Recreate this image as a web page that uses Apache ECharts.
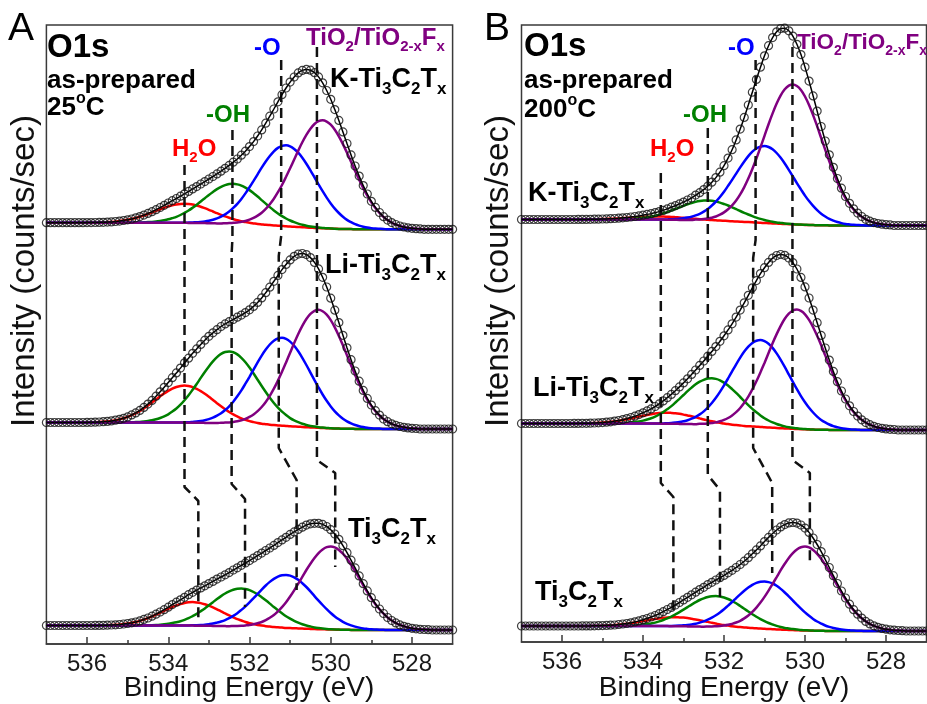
<!DOCTYPE html>
<html><head><meta charset="utf-8">
<script src="https://cdn.jsdelivr.net/npm/echarts@6/dist/echarts.min.js"></script>
<style>html,body{margin:0;padding:0;background:#fff}#c{width:927px;height:704px}</style>
</head><body><div id="c"></div>
<script>
// ---------- DATA ----------
// binding-energy grid (eV), 0.1 eV steps
const energies = [537.0,536.9,536.8,536.7,536.6,536.5,536.4,536.3,536.2,536.1,
 536.0,535.9,535.8,535.7,535.6,535.5,535.4,535.3,535.2,535.1,
 535.0,534.9,534.8,534.7,534.6,534.5,534.4,534.3,534.2,534.1,
 534.0,533.9,533.8,533.7,533.6,533.5,533.4,533.3,533.2,533.1,
 533.0,532.9,532.8,532.7,532.6,532.5,532.4,532.3,532.2,532.1,
 532.0,531.9,531.8,531.7,531.6,531.5,531.4,531.3,531.2,531.1,
 531.0,530.9,530.8,530.7,530.6,530.5,530.4,530.3,530.2,530.1,
 530.0,529.9,529.8,529.7,529.6,529.5,529.4,529.3,529.2,529.1,
 529.0,528.9,528.8,528.7,528.6,528.5,528.4,528.3,528.2,528.1,
 528.0,527.9,527.8,527.7,527.6,527.5,527.4,527.3,527.2,527.1,527.0];
const xMajorTicks = [536,534,532,530,528];
const xMinorTicks = [535,533,531,529];

// Shirley-type backgrounds (height above right-hand baseline) on the grid above
const a1_bg = [6.6,6.6,6.6,6.6,6.6,6.6,6.6,6.6,6.6,6.6, 6.6,6.6,6.6,6.6,6.6,6.6,6.6,6.6,6.6,6.6, 6.6,6.6,6.6,6.6,6.6,6.6,6.6,6.6,6.6,6.6, 6.6,
 6.6,6.5,6.5,6.5,6.4,6.4,6.3,6.3,6.2,6.1, 6.0,5.9,5.8,5.7,5.6,5.5,5.3,5.2,5.0,4.9, 4.7,4.5,4.3,4.1,3.9,3.7,3.5,3.2,3.0,2.8, 2.5,2.3,2.1,1.8,1.6,1.4,1.2,1.0,0.8,0.7, 0.5,0.4,0.3,0.2,0.2,0.1,0.1,0.1,0,0,
 0,0,0,0,0,0,0,0,0,0, 0,0,0,0,0,0,0,0,0,0];
const a2_bg = [6.5,6.5,6.5,6.5,6.5,6.5,6.5,6.5,6.5,6.5, 6.5,6.5,6.5,6.5,6.5,6.5,6.5,6.5,6.5,6.5, 6.5,6.5,6.5,6.5,6.5,6.5,6.5,6.5,6.5,6.5, 6.5,
 6.5,6.4,6.4,6.4,6.3,6.3,6.2,6.2,6.1,6.0, 5.9,5.9,5.8,5.7,5.5,5.4,5.3,5.1,5.0,4.8, 4.6,4.4,4.2,4.0,3.8,3.6,3.4,3.2,3.0,2.7, 2.5,2.3,2.0,1.8,1.6,1.4,1.2,1.0,0.8,0.7, 0.5,0.4,0.3,0.2,0.2,0.1,0.1,0.1,0,0,
 0,0,0,0,0,0,0,0,0,0, 0,0,0,0,0,0,0,0,0,0];
const a3_bg = [4.5,4.5,4.5,4.5,4.5,4.5,4.5,4.5,4.5,4.5, 4.5,4.5,4.5,4.5,4.5,4.5,4.5,4.5,4.5,4.5, 4.5,4.5,4.5,4.5,4.5,4.5,4.5,4.5,4.5,4.5, 4.5,
 4.5,4.5,4.4,4.4,4.4,4.4,4.3,4.3,4.2,4.2, 4.1,4.1,4.0,3.9,3.8,3.7,3.6,3.6,3.4,3.3, 3.2,3.1,2.9,2.8,2.7,2.5,2.4,2.2,2.0,1.9, 1.7,1.6,1.4,1.3,1.1,0.9,0.8,0.7,0.6,0.5, 0.4,0.3,0.2,0.2,0.1,0.1,0.1,0,0,0,
 0,0,0,0,0,0,0,0,0,0, 0,0,0,0,0,0,0,0,0,0];
const b1_bg = [6,6,6,6,6,6,6,6,6,6, 6,6,6,6,6,6,6,6,6,6, 6,6,6,6,6,6,6,6,6,6, 6,
 6.0,5.9,5.9,5.9,5.9,5.8,5.8,5.7,5.6,5.6, 5.5,5.4,5.3,5.2,5.1,5.0,4.9,4.7,4.6,4.4, 4.3,4.1,3.9,3.7,3.5,3.4,3.2,2.9,2.7,2.5, 2.3,2.1,1.9,1.7,1.5,1.3,1.1,0.9,0.8,0.6, 0.5,0.4,0.3,0.2,0.2,0.1,0.1,0.1,0,0,
 0,0,0,0,0,0,0,0,0,0, 0,0,0,0,0,0,0,0,0,0];
const b2_bg = [6.5,6.5,6.5,6.5,6.5,6.5,6.5,6.5,6.5,6.5, 6.5,6.5,6.5,6.5,6.5,6.5,6.5,6.5,6.5,6.5, 6.5,6.5,6.5,6.5,6.5,6.5,6.5,6.5,6.5,6.5, 6.5,
 6.5,6.4,6.4,6.4,6.3,6.3,6.2,6.2,6.1,6.0, 5.9,5.9,5.8,5.7,5.5,5.4,5.3,5.1,5.0,4.8, 4.6,4.4,4.2,4.0,3.8,3.6,3.4,3.2,3.0,2.7, 2.5,2.3,2.0,1.8,1.6,1.4,1.2,1.0,0.8,0.7, 0.5,0.4,0.3,0.2,0.2,0.1,0.1,0.1,0,0,
 0,0,0,0,0,0,0,0,0,0, 0,0,0,0,0,0,0,0,0,0];
const b3_bg = [5,5,5,5,5,5,5,5,5,5, 5,5,5,5,5,5,5,5,5,5, 5,5,5,5,5,5,5,5,5,5, 5,
 5.0,5.0,4.9,4.9,4.9,4.9,4.8,4.8,4.7,4.7, 4.6,4.5,4.4,4.4,4.3,4.2,4.1,4.0,3.8,3.7, 3.6,3.4,3.3,3.1,3.0,2.8,2.6,2.5,2.3,2.1, 1.9,1.8,1.6,1.4,1.2,1.1,0.9,0.8,0.6,0.5, 0.4,0.3,0.2,0.2,0.1,0.1,0.1,0.1,0,0,
 0,0,0,0,0,0,0,0,0,0, 0,0,0,0,0,0,0,0,0,0];

// fitted components: readings every 0.1 eV, starting at "from" (eV) and going down in energy
// Panel A (25 C) : K-Ti3C2Tx
const a1_h2o = { from: 536.0, values: [0.1,0.1,0.2,0.3,0.4,0.6,0.8,1.2,1.6,2.2,2.9,3.7,4.7,5.9,7.2,8.7,10.2,11.8,13.4,14.9,16.3,17.4,18.3,18.8,19,18.8,18.3,17.4,16.3,14.9,13.4,11.8,10.2,8.7,7.2,5.9,4.7,3.7,2.9,2.2,1.6,1.2,0.8,0.6,0.4,0.3,0.2,0.1,0.1] };
const a1_oh = { from: 534.8, values: [0.2,0.2,0.4,0.6,0.8,1.2,1.8,2.5,3.4,4.6,6.0,7.8,10.0,12.4,15.2,18.3,21.6,24.9,28.3,31.4,34.3,36.7,38.5,39.6,40,39.6,38.5,36.7,34.3,31.4,28.3,24.9,21.6,18.3,15.2,12.4,10.0,7.8,6.0,4.6,3.4,2.5,1.8,1.2,0.8,0.6,0.4,0.2,0.2] };
const a1_o = { from: 533.5, values: [0.3,0.5,0.7,1.1,1.7,2.5,3.6,5.0,6.9,9.2,12.2,15.9,20.2,25.2,30.9,37.1,43.7,50.5,57.3,63.7,69.4,74.3,77.9,80.2,81,80.2,77.9,74.3,69.4,63.7,57.3,50.5,43.7,37.1,30.9,25.2,20.2,15.9,12.2,9.2,6.9,5.0,3.6,2.5,1.7,1.1,0.7,0.5,0.3] };
const a1_tio2 = { from: 532.6, values: [0.4,0.6,1.0,1.5,2.3,3.3,4.8,6.7,9.2,12.3,16.3,21.2,26.9,33.6,41.1,49.5,58.2,67.3,76.4,84.9,92.6,99.0,103.9,106.9,108,106.9,103.9,99.0,92.6,84.9,76.4,67.3,58.2,49.5,41.1,33.6,26.9,21.2,16.3,12.3,9.2,6.7,4.8,3.3,2.3,1.5,1.0,0.6,0.4] };
// Panel A : Li-Ti3C2Tx
const a2_h2o = { from: 536.0, values: [0.1,0.2,0.3,0.5,0.8,1.1,1.6,2.3,3.1,4.2,5.6,7.3,9.2,11.5,14.1,16.9,19.9,23.1,26.2,29.1,31.7,33.9,35.6,36.6,37,36.6,35.6,33.9,31.7,29.1,26.2,23.1,19.9,16.9,14.1,11.5,9.2,7.3,5.6,4.2,3.1,2.3,1.6,1.1,0.8,0.5,0.3,0.2,0.1] };
const a2_oh = { from: 534.9, values: [0.3,0.4,0.6,1.0,1.5,2.2,3.2,4.5,6.1,8.2,10.9,14.1,17.9,22.4,27.4,33.0,38.8,44.9,50.9,56.6,61.7,66.0,69.3,71.3,72,71.3,69.3,66.0,61.7,56.6,50.9,44.9,38.8,33.0,27.4,22.4,17.9,14.1,10.9,8.2,6.1,4.5,3.2,2.2,1.5,1.0,0.6,0.4,0.3] };
const a2_o = { from: 533.6, values: [0.4,0.5,0.8,1.2,1.8,2.7,3.9,5.5,7.5,10.0,13.3,17.2,21.9,27.4,33.5,40.3,47.4,54.8,62.2,69.2,75.4,80.7,84.7,87.1,88,87.1,84.7,80.7,75.4,69.2,62.2,54.8,47.4,40.3,33.5,27.4,21.9,17.2,13.3,10.0,7.5,5.5,3.9,2.7,1.8,1.2,0.8,0.5,0.4] };
const a2_tio2 = { from: 532.7, values: [0.5,0.7,1.1,1.7,2.5,3.7,5.2,7.3,10.0,13.5,17.8,23.1,29.4,36.7,45.0,54.0,63.6,73.5,83.4,92.7,101.1,108.2,113.5,116.8,118,116.8,113.5,108.2,101.1,92.7,83.4,73.5,63.6,54.0,45.0,36.7,29.4,23.1,17.8,13.5,10.0,7.3,5.2,3.7,2.5,1.7,1.1,0.7,0.5] };
// Panel A : Ti3C2Tx
const a3_h2o = { from: 535.8, values: [0.1,0.1,0.2,0.3,0.5,0.7,1.0,1.5,2.0,2.7,3.5,4.6,5.9,7.3,9.0,10.8,12.7,14.6,16.6,18.5,20.1,21.5,22.6,23.3,23.5,23.3,22.6,21.5,20.1,18.5,16.6,14.6,12.7,10.8,9.0,7.3,5.9,4.6,3.5,2.7,2.0,1.5,1.0,0.7,0.5,0.3,0.2,0.1,0.1] };
const a3_oh = { from: 534.6, values: [0.2,0.2,0.3,0.5,0.8,1.2,1.7,2.4,3.2,4.3,5.7,7.4,9.5,11.8,14.5,17.4,20.5,23.7,26.9,29.9,32.6,34.8,36.6,37.6,38,37.6,36.6,34.8,32.6,29.9,26.9,23.7,20.5,17.4,14.5,11.8,9.5,7.4,5.7,4.3,3.2,2.4,1.7,1.2,0.8,0.5,0.3,0.2,0.2] };
const a3_o = { from: 533.5, values: [0.2,0.3,0.5,0.7,1.1,1.6,2.3,3.3,4.5,6.0,8.0,10.4,13.2,16.5,20.2,24.3,28.6,33.0,37.5,41.7,45.4,48.6,51.0,52.5,53,52.5,51.0,48.6,45.4,41.7,37.5,33.0,28.6,24.3,20.2,16.5,13.2,10.4,8.0,6.0,4.5,3.3,2.3,1.6,1.1,0.7,0.5,0.3,0.2] };
const a3_tio2 = { from: 532.4, values: [0.3,0.5,0.7,1.2,1.7,2.6,3.7,5.1,7.1,9.5,12.5,16.3,20.7,25.8,31.6,38.0,44.7,51.7,58.7,65.2,71.1,76.1,79.8,82.2,83,82.2,79.8,76.1,71.1,65.2,58.7,51.7,44.7,38.0,31.6,25.8,20.7,16.3,12.5,9.5,7.1,5.1,3.7,2.6,1.7,1.2,0.7,0.5,0.3] };

// Panel B (200 C) : K-Ti3C2Tx
const b1_h2o = { from: 536.0, values: [0,0,0,0,0.1,0.1,0.1,0.2,0.3,0.3,0.5,0.6,0.7,0.9,1.1,1.4,1.6,1.9,2.1,2.4,2.6,2.8,2.9,3.0,3,3.0,2.9,2.8,2.6,2.4,2.1,1.9,1.6,1.4,1.1,0.9,0.7,0.6,0.5,0.3,0.3,0.2,0.1,0.1,0.1,0,0,0,0] };
const b1_oh = { from: 534.8, values: [0.1,0.1,0.2,0.3,0.4,0.6,0.9,1.2,1.7,2.3,3.0,3.9,5.0,6.2,7.6,9.2,10.8,12.5,14.1,15.7,17.1,18.3,19.2,19.8,20,19.8,19.2,18.3,17.1,15.7,14.1,12.5,10.8,9.2,7.6,6.2,5.0,3.9,3.0,2.3,1.7,1.2,0.9,0.6,0.4,0.3,0.2,0.1,0.1] };
const b1_o = { from: 533.4, values: [0.3,0.5,0.7,1.1,1.6,2.4,3.4,4.8,6.5,8.8,11.6,15.1,19.2,23.9,29.3,35.3,41.5,48.0,54.4,60.5,66.0,70.6,74.1,76.2,77,76.2,74.1,70.6,66.0,60.5,54.4,48.0,41.5,35.3,29.3,23.9,19.2,15.1,11.6,8.8,6.5,4.8,3.4,2.4,1.6,1.1,0.7,0.5,0.3] };
const b1_tio2 = { from: 532.7, values: [0.6,0.8,1.3,2.0,2.9,4.3,6.2,8.7,11.9,16.0,21.1,27.4,34.9,43.5,53.3,64.1,75.5,87.2,99.0,110.0,120.0,128.4,134.7,138.6,140,138.6,134.7,128.4,120.0,110.0,99.0,87.2,75.5,64.1,53.3,43.5,34.9,27.4,21.1,16.0,11.9,8.7,6.2,4.3,2.9,2.0,1.3,0.8,0.6] };
// Panel B : Li-Ti3C2Tx
const b2_h2o = { from: 535.8, values: [0,0.1,0.1,0.2,0.2,0.3,0.5,0.7,0.9,1.3,1.7,2.2,2.7,3.4,4.2,5.0,5.9,6.9,7.8,8.6,9.4,10.1,10.6,10.9,11,10.9,10.6,10.1,9.4,8.6,7.8,6.9,5.9,5.0,4.2,3.4,2.7,2.2,1.7,1.3,0.9,0.7,0.5,0.3,0.2,0.2,0.1,0.1,0] };
const b2_oh = { from: 534.7, values: [0.2,0.3,0.4,0.7,1.0,1.4,2.0,2.9,4.0,5.3,7.0,9.1,11.6,14.5,17.7,21.3,25.1,29.0,32.9,36.5,39.9,42.6,44.7,46.0,46.5,46.0,44.7,42.6,39.9,36.5,32.9,29.0,25.1,21.3,17.7,14.5,11.6,9.1,7.0,5.3,4.0,2.9,2.0,1.4,1.0,0.7,0.4,0.3,0.2] };
const b2_o = { from: 533.5, values: [0.3,0.5,0.8,1.2,1.8,2.7,3.8,5.4,7.4,9.9,13.1,17.1,21.7,27.1,33.1,39.8,46.9,54.2,61.5,68.4,74.6,79.8,83.7,86.1,87,86.1,83.7,79.8,74.6,68.4,61.5,54.2,46.9,39.8,33.1,27.1,21.7,17.1,13.1,9.9,7.4,5.4,3.8,2.7,1.8,1.2,0.8,0.5,0.3] };
const b2_tio2 = { from: 532.6, values: [0.5,0.7,1.1,1.7,2.5,3.7,5.3,7.4,10.2,13.6,18.0,23.4,29.8,37.2,45.5,54.7,64.4,74.4,84.5,93.9,102.4,109.6,115.0,118.3,119.5,118.3,115.0,109.6,102.4,93.9,84.5,74.4,64.4,54.7,45.5,37.2,29.8,23.4,18.0,13.6,10.2,7.4,5.3,3.7,2.5,1.7,1.1,0.7,0.5] };
// Panel B : Ti3C2Tx
const b3_h2o = { from: 535.6, values: [0,0.1,0.1,0.1,0.2,0.3,0.4,0.6,0.8,1.0,1.4,1.8,2.2,2.8,3.4,4.1,4.9,5.6,6.4,7.1,7.7,8.3,8.7,8.9,9,8.9,8.7,8.3,7.7,7.1,6.4,5.6,4.9,4.1,3.4,2.8,2.2,1.8,1.4,1.0,0.8,0.6,0.4,0.3,0.2,0.1,0.1,0.1,0] };
const b3_oh = { from: 534.6, values: [0.1,0.2,0.3,0.4,0.7,1.0,1.4,1.9,2.6,3.5,4.7,6.1,7.7,9.6,11.8,14.2,16.7,19.3,21.9,24.4,26.6,28.4,29.8,30.7,31,30.7,29.8,28.4,26.6,24.4,21.9,19.3,16.7,14.2,11.8,9.6,7.7,6.1,4.7,3.5,2.6,1.9,1.4,1.0,0.7,0.4,0.3,0.2,0.1] };
const b3_o = { from: 533.4, values: [0.2,0.3,0.4,0.7,1.0,1.5,2.1,2.9,4.0,5.4,7.2,9.3,11.8,14.8,18.1,21.8,25.6,29.6,33.6,37.3,40.7,43.6,45.7,47.0,47.5,47.0,45.7,43.6,40.7,37.3,33.6,29.6,25.6,21.8,18.1,14.8,11.8,9.3,7.2,5.4,4.0,2.9,2.1,1.5,1.0,0.7,0.4,0.3,0.2] };
const b3_tio2 = { from: 532.4, values: [0.3,0.5,0.8,1.2,1.8,2.6,3.7,5.2,7.1,9.6,12.7,16.5,20.9,26.1,32.0,38.5,45.3,52.3,59.4,66.0,72.0,77.0,80.8,83.2,84,83.2,80.8,77.0,72.0,66.0,59.4,52.3,45.3,38.5,32.0,26.1,20.9,16.5,12.7,9.6,7.1,5.2,3.7,2.6,1.8,1.2,0.8,0.5,0.3] };

// peak-position markers (eV) : [H2O, -OH, -O, TiO2/TiO2-xFx]
const markA_K  = [533.6, 532.42, 531.22, 530.34];
const markA_Li = [533.6, 532.44, 531.28, 530.34];
const markA_Ti = [533.26, 532.11, 530.84, 529.89];
const markB_K  = [533.56, 532.40, 531.22, 530.31];
const markB_Li = [533.56, 532.40, 531.28, 530.31];
const markB_Ti = [533.25, 532.10, 530.81, 529.88];

// ---------- LAYOUT ----------
const FF = "'Liberation Sans', Arial, Helvetica, sans-serif";
const COLORS = ['#ff0000', '#008000', '#0000ff', '#800080'];
const panels = [
  { left: 46.4, top: 25, width: 406.2, height: 619, offsets: [414.7, 215, 14],
    spectra: [[a1_bg, [a1_h2o, a1_oh, a1_o, a1_tio2]], [a2_bg, [a2_h2o, a2_oh, a2_o, a2_tio2]], [a3_bg, [a3_h2o, a3_oh, a3_o, a3_tio2]]],
    marks: [markA_K, markA_Li, markA_Ti],
    dash: { top: [165, 130, 60, 47], kli: [[238, 254], [238, 254], [236, 256], [238, 254]], liti: [[487, 501], [484, 499], [448, 480], [460, 473]], end: [618, 607, 590, 567] } },
  { left: 521.5, top: 25, width: 405, height: 617, offsets: [416.5, 212, 11],
    spectra: [[b1_bg, [b1_h2o, b1_oh, b1_o, b1_tio2]], [b2_bg, [b2_h2o, b2_oh, b2_o, b2_tio2]], [b3_bg, [b3_h2o, b3_oh, b3_o, b3_tio2]]],
    marks: [markB_K, markB_Li, markB_Ti],
    dash: { top: [173, 128, 60, 47], kli: [[238, 256], [238, 256], [240, 258], [238, 256]], liti: [[483, 497], [475, 490], [448, 483], [460, 473]], end: [613, 597, 573, 565] } }
];

// value of a component reading at grid energy e (0 where nothing was read)
function compAt(comp, e) {
  const idx = Math.round((comp.from - e) * 10);
  return (idx >= 0 && idx < comp.values.length) ? comp.values[idx] : 0;
}

const grid = [], xAxis = [], yAxis = [], series = [];
panels.forEach((p, gi) => {
  grid.push({ left: p.left, top: p.top, width: p.width, height: p.height, show: true, borderColor: '#3a3a3a', borderWidth: 1.5, backgroundColor: 'transparent', outerBoundsMode: 'none' });
  xAxis.push({ gridIndex: gi, type: 'value', min: 527, max: 537, inverse: true, position: 'bottom',
    axisLine: { show: true, onZero: false, lineStyle: { color: '#3a3a3a', width: 1.5 } },
    axisTick: { show: true, inside: true, length: 7, customValues: xMajorTicks, lineStyle: { color: '#3a3a3a', width: 1.5 } },
    axisLabel: { show: true, customValues: xMajorTicks, fontSize: 24, color: '#1a1a1a', fontFamily: FF, margin: 8 },
    splitLine: { show: false } });
  xAxis.push({ gridIndex: gi, type: 'value', min: 527, max: 537, inverse: true, position: 'bottom',
    axisLine: { show: false, onZero: false },
    axisTick: { show: true, inside: true, length: 4, customValues: xMinorTicks, lineStyle: { color: '#3a3a3a', width: 1.5 } },
    axisLabel: { show: false }, splitLine: { show: false } });
  yAxis.push({ gridIndex: gi, type: 'value', min: 0, max: p.height, show: false, splitLine: { show: false } });
  const bottom = p.top + p.height;
  const xi = gi * 2;
  p.spectra.forEach((sp, si) => {
    const off = p.offsets[si];
    const bg = sp[0], comps = sp[1];
    comps.forEach((c, j) => {
      series.push({ type: 'line', xAxisIndex: xi, yAxisIndex: gi, smooth: 0.3, symbol: 'none', silent: true, z: 2,
        lineStyle: { color: COLORS[j], width: 2.5 },
        data: energies.map((e, i) => [e, off + bg[i] + compAt(c, e)]) });
    });
    const env = energies.map((e, i) => [e, off + bg[i] + compAt(comps[0], e) + compAt(comps[1], e) + compAt(comps[2], e) + compAt(comps[3], e)]);
    series.push({ type: 'line', xAxisIndex: xi, yAxisIndex: gi, smooth: 0.3, symbol: 'none', silent: true, z: 4,
      lineStyle: { color: '#000', width: 1.5 }, data: env });
    series.push({ type: 'scatter', xAxisIndex: xi, yAxisIndex: gi, symbol: 'circle', symbolSize: 8, silent: true, z: 5,
      itemStyle: { color: 'rgba(255,255,255,0)', borderColor: '#111', borderWidth: 1.2 }, data: env });
  });
  // dashed peak-position guide lines
  const yv = py => bottom - py;
  for (let j = 0; j < 4; j++) {
    const [mK, mL, mT] = p.marks;
    const d = p.dash;
    series.push({ type: 'line', xAxisIndex: xi, yAxisIndex: gi, symbol: 'none', silent: true, z: 3,
      lineStyle: { color: '#111', width: 2.5, type: [10, 6] },
      data: [[mK[j], yv(d.top[j])], [mK[j], yv(d.kli[j][0])], [mL[j], yv(d.kli[j][1])], [mL[j], yv(d.liti[j][0])], [mT[j], yv(d.liti[j][1])], [mT[j], yv(d.end[j])]] });
  }
});

// ---------- TEXT ----------
function rich(size, fill) {
  const s = Math.round(size * 0.63);
  return {
    m: { fontSize: size, fontWeight: 'bold', fontFamily: FF, fill: fill, lineHeight: size + 8 },
    s: { fontSize: s, fontWeight: 'bold', fontFamily: FF, fill: fill, lineHeight: s + 1, verticalAlign: 'bottom' },
    p: { fontSize: s, fontWeight: 'bold', fontFamily: FF, fill: fill, lineHeight: s, verticalAlign: 'top' }
  };
}
function T(x, y, text, size, fill, bold) {
  return { type: 'text', x: x, y: y, silent: true, z: 100,
    style: { text: text, rich: rich(size, fill), fontSize: size, fontWeight: bold === false ? 'normal' : 'bold', fontFamily: FF, fill: fill, align: 'left', verticalAlign: 'middle' } };
}
const KT = '{m|K-Ti}{s|3}{m|C}{s|2}{m|T}{s|x}';
const LT = '{m|Li-Ti}{s|3}{m|C}{s|2}{m|T}{s|x}';
const TT = '{m|Ti}{s|3}{m|C}{s|2}{m|T}{s|x}';
const TIO = '{m|TiO}{s|2}{m|/TiO}{s|2-x}{m|F}{s|x}';
const H2O = '{m|H}{s|2}{m|O}';
const graphic = [
  T(8, 29, 'A', 39, '#000', false),
  T(47, 48, '{m|O1s}', 33, '#000'),
  T(47, 81, '{m|as-prepared}', 26, '#000'),
  T(47, 108, '{m|25}{p|o}{m|C}', 26, '#000'),
  T(254, 48, '{m|-O}', 24, '#0000ff'),
  T(206, 115, '{m|-OH}', 24, '#008000'),
  T(172, 149, H2O, 24, '#ff0000'),
  T(306, 38, TIO, 24, '#800080'),
  T(330, 80, KT, 27, '#000'),
  T(325, 266, LT, 27, '#000'),
  T(348, 530, TT, 27, '#000'),

  T(484, 29, 'B', 39, '#000', false),
  T(524, 47, '{m|O1s}', 33, '#000'),
  T(524, 81, '{m|as-prepared}', 26, '#000'),
  T(524, 110, '{m|200}{p|o}{m|C}', 26, '#000'),
  T(728, 48, '{m|-O}', 24, '#0000ff'),
  T(683, 115, '{m|-OH}', 24, '#008000'),
  T(650, 149, H2O, 24, '#ff0000'),
  T(797, 43, TIO, 22.5, '#800080'),
  T(528, 194, KT, 27, '#000'),
  T(533, 389, LT, 27, '#000'),
  T(535, 593, TT, 27, '#000'),

  { type: 'text', x: 249, y: 688, silent: true, style: { text: 'Binding Energy (eV)', fontSize: 28, fontFamily: FF, fill: '#111', align: 'center', verticalAlign: 'middle' } },
  { type: 'text', x: 724, y: 688, silent: true, style: { text: 'Binding Energy (eV)', fontSize: 28, fontFamily: FF, fill: '#111', align: 'center', verticalAlign: 'middle' } },
  { type: 'text', x: 25, y: 271, rotation: Math.PI / 2, silent: true, style: { text: 'Intensity (counts/sec)', fontSize: 33, fontFamily: FF, fill: '#111', align: 'center', verticalAlign: 'middle' } },
  { type: 'text', x: 499, y: 271, rotation: Math.PI / 2, silent: true, style: { text: 'Intensity (counts/sec)', fontSize: 33, fontFamily: FF, fill: '#111', align: 'center', verticalAlign: 'middle' } }
];

const chart = echarts.init(document.getElementById('c'), null, { renderer: 'canvas' });
chart.setOption({ animation: false, backgroundColor: '#fff', grid, xAxis, yAxis, series, graphic });
</script>
</body></html>
